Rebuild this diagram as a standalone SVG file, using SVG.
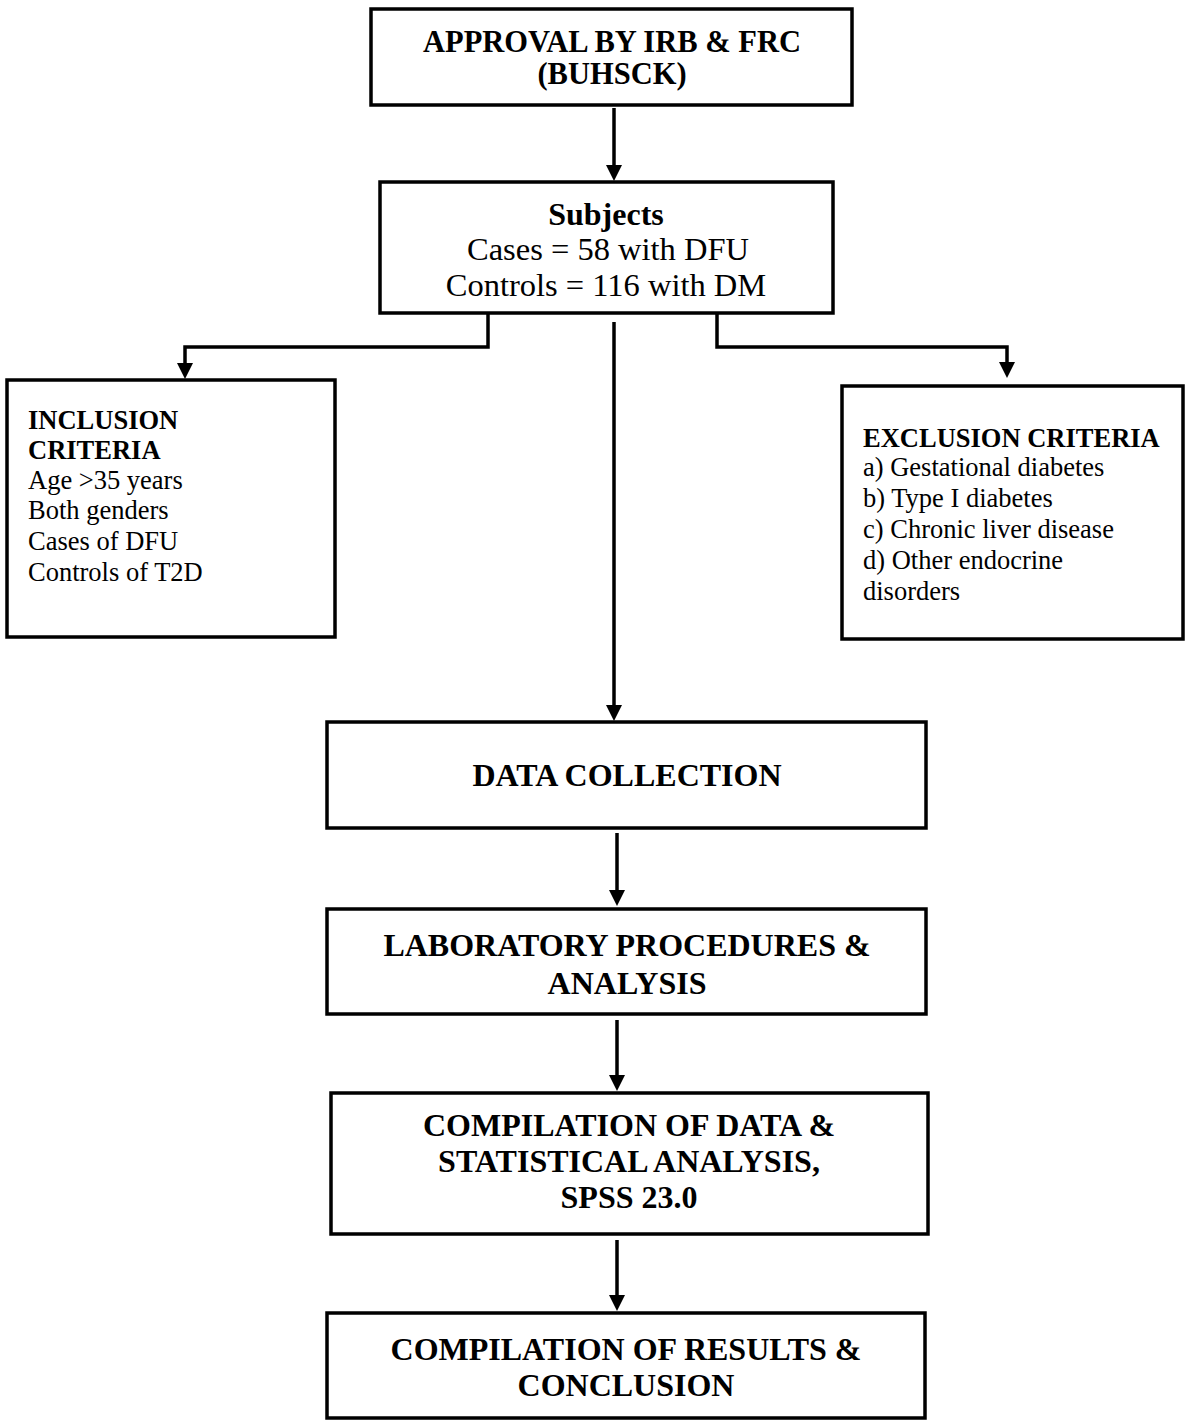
<svg xmlns="http://www.w3.org/2000/svg" width="1185" height="1426" viewBox="0 0 1185 1426">
<defs>
<marker id="ah" markerUnits="userSpaceOnUse" markerWidth="16" markerHeight="16" viewBox="0 0 16 16" refX="6" refY="8" orient="auto">
<path d="M0,0 L16,8 L0,16 z" fill="#000"/>
</marker>
</defs>
<style>
.box{fill:#fff;stroke:#000;stroke-width:3.5}
.con{fill:none;stroke:#000;stroke-width:3.5;marker-end:url(#ah)}
.h{font-family:"Liberation Serif","Times New Roman",serif;font-weight:bold;font-size:32px;fill:#000;text-anchor:middle}
.h1{font-size:30.5px}
.r{font-family:"Liberation Serif","Times New Roman",serif;font-size:32.5px;fill:#000;text-anchor:middle}
.sb{font-family:"Liberation Serif","Times New Roman",serif;font-weight:bold;font-size:26.5px;fill:#000}
.sr{font-family:"Liberation Serif","Times New Roman",serif;font-size:26.5px;fill:#000}
</style>
<rect width="1185" height="1426" fill="#fff"/>
<g id="connectors">
<path class="con" d="M614,108 V171"/>
<path class="con" d="M614,322 V711"/>
<path class="con" d="M488,314 V347 H185 V369"/>
<path class="con" d="M717,314 V347 H1007 V368"/>
<path class="con" d="M617,833 V896"/>
<path class="con" d="M617,1020 V1081"/>
<path class="con" d="M617,1240 V1301"/>
</g>
<g id="approval">
<rect class="box" x="371" y="9" width="481" height="96"/>
<text class="h h1" x="612" y="52">APPROVAL BY IRB &amp; FRC</text>
<text class="h h1" x="612" y="84">(BUHSCK)</text>
</g>
<g id="subjects">
<rect class="box" x="380" y="182" width="453" height="131"/>
<text class="h" x="606" y="225">Subjects</text>
<text class="r" x="608" y="260">Cases = 58 with DFU</text>
<text class="r" x="606" y="296">Controls = 116 with DM</text>
</g>
<g id="inclusion">
<rect class="box" x="7" y="380" width="328" height="257"/>
<text class="sb" x="28" y="429">INCLUSION</text>
<text class="sb" x="28" y="459">CRITERIA</text>
<text class="sr" x="28" y="489">Age &gt;35 years</text>
<text class="sr" x="28" y="519">Both genders</text>
<text class="sr" x="28" y="550">Cases of DFU</text>
<text class="sr" x="28" y="581">Controls of T2D</text>
</g>
<g id="exclusion">
<rect class="box" x="842" y="386" width="341" height="253"/>
<text class="sb" x="863" y="447">EXCLUSION CRITERIA</text>
<text class="sr" x="863" y="476">a) Gestational diabetes</text>
<text class="sr" x="863" y="507">b) Type I diabetes</text>
<text class="sr" x="863" y="538">c) Chronic liver disease</text>
<text class="sr" x="863" y="569">d) Other endocrine</text>
<text class="sr" x="863" y="600">disorders</text>
</g>
<g id="data-collection">
<rect class="box" x="327" y="722" width="599" height="106"/>
<text class="h" x="627" y="786">DATA COLLECTION</text>
</g>
<g id="laboratory">
<rect class="box" x="327" y="909" width="599" height="105"/>
<text class="h" x="627" y="956">LABORATORY PROCEDURES &amp;</text>
<text class="h" x="627" y="994">ANALYSIS</text>
</g>
<g id="compilation-data">
<rect class="box" x="331" y="1093" width="597" height="141"/>
<text class="h" x="629" y="1136">COMPILATION OF DATA &amp;</text>
<text class="h" x="629" y="1172">STATISTICAL ANALYSIS,</text>
<text class="h" x="629" y="1208">SPSS 23.0</text>
</g>
<g id="compilation-results">
<rect class="box" x="327" y="1313" width="598" height="105"/>
<text class="h" x="626" y="1360">COMPILATION OF RESULTS &amp;</text>
<text class="h" x="626" y="1396">CONCLUSION</text>
</g>
</svg>
